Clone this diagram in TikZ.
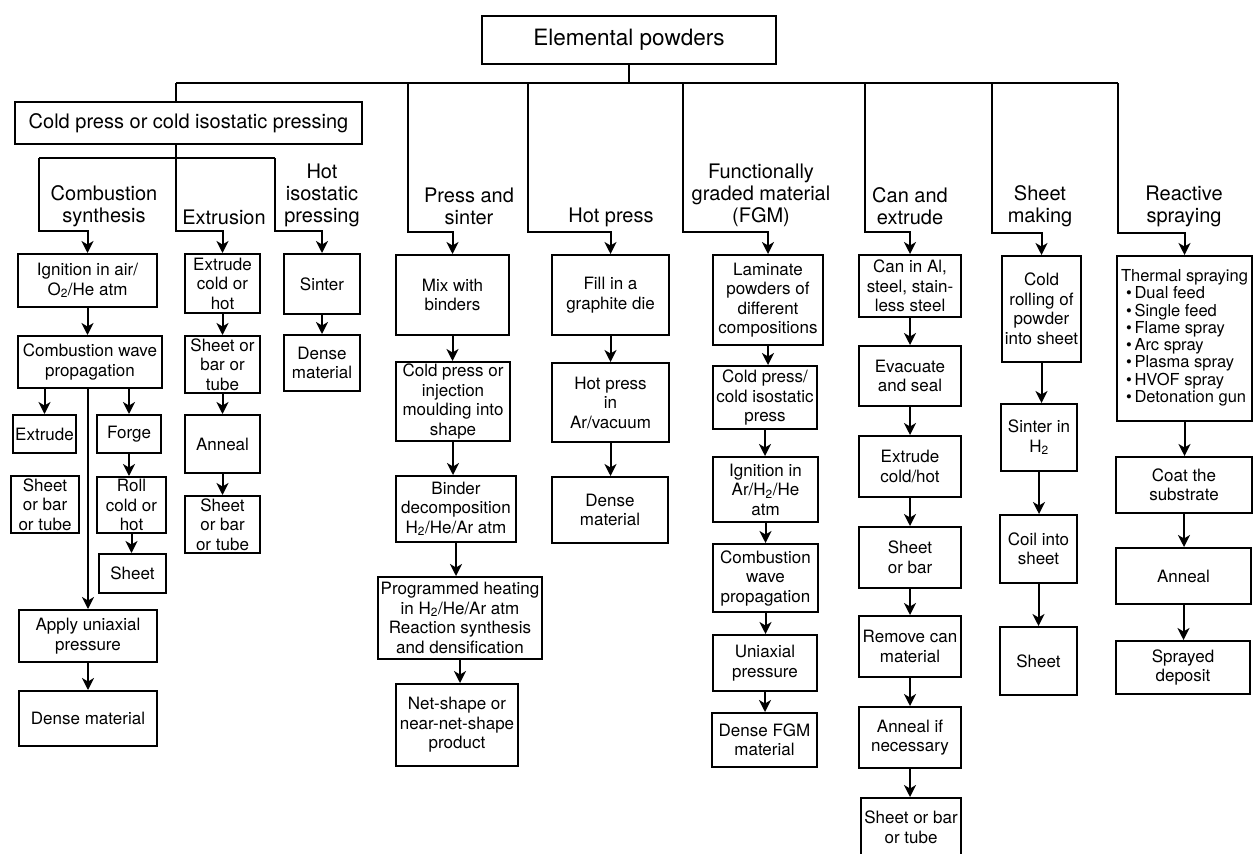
\documentclass[tikz,border=0pt]{standalone}
\usepackage{fontspec}
\setmainfont{TeX Gyre Heros}
\usetikzlibrary{arrows.meta}

\begin{document}
\begin{tikzpicture}[x=1pt,y=-1pt,
  box/.style={draw,line width=2pt,align=center,inner sep=0pt,font=\fontsize{17}{19.5}\selectfont},
  lab/.style={align=center,font=\fontsize{20}{22}\selectfont},
  arr/.style={line width=2pt,-{Stealth[length=12pt,width=12pt,inset=3.5pt]}},
  bus/.style={line width=1.3pt}]
\useasboundingbox (0,0) rectangle (1253,854);
% box from (x1,y1) to (x2,y2)
\def\pbox#1#2#3#4#5#6{\node[box,minimum width={#4-#2},minimum height={#5-#3}] (#1) at ({(#2+#4)/2},{(#3+#5)/2}) {#6};}

% top of the tree
\pbox{top}{482}{16}{776}{64}{\fontsize{22.5}{26}\selectfont Elemental powders}
\pbox{cold}{15}{102}{362}{144}{\fontsize{20}{24}\selectfont Cold press or cold isostatic pressing}
\coordinate (busL) at (176,83);
\coordinate (busR) at (1118,83);
\foreach \n/\dx in {jPS/408,jHP/528,jFG/683,jCE/865,jSM/992,jRS/1118}
  \coordinate (\n) at (\dx,83);
\coordinate (subL) at (39,158);
\coordinate (subR) at (275,158);

% combustion synthesis
\pbox{ign}{18}{254}{157}{307}{Ignition in air/\\O\textsubscript{2}/He atm}
\pbox{cwp}{18}{336}{162}{388}{Combustion wave\\propagation}
\pbox{extr}{13}{415}{76}{453}{Extrude}
\pbox{sbtA}{11}{476}{79}{533}{Sheet\\or bar\\or tube}
\pbox{forge}{97}{415}{161}{453}{Forge}
\pbox{roll}{97}{477}{166}{533}{Roll\\cold or\\hot}
\pbox{sheetA}{99}{554}{166}{593}{Sheet}
\pbox{apply}{19}{610}{157}{662}{Apply uniaxial\\pressure}
\pbox{denseA}{19}{691}{157}{746}{Dense material}

% extrusion, HIP
\pbox{exc}{185}{254}{260}{313}{Extrude\\cold or\\hot}
\pbox{esb}{185}{336}{260}{393}{Sheet or\\bar or\\tube}
\pbox{ean}{185}{415}{260}{473}{Anneal}
\pbox{esbb}{185}{496}{260}{553}{Sheet\\or bar\\or tube}
\pbox{hsin}{284}{254}{360}{314}{Sinter}
\pbox{hden}{284}{335}{360}{391}{Dense\\material}

% press and sinter, hot press
\pbox{mix}{396}{255}{509}{335}{Mix with\\binders}
\pbox{cpi}{396}{362}{510}{441}{Cold press or\\injection\\moulding into\\shape}
\pbox{bind}{396}{476}{516}{542}{Binder\\decomposition\\H\textsubscript{2}/He/Ar atm}
\pbox{prog}{378}{577}{542}{659}{Programmed heating\\in H\textsubscript{2}/He/Ar atm\\Reaction synthesis\\and densification}
\pbox{net}{396}{684}{518}{766}{Net-shape or\\near-net-shape\\product}
\pbox{fill}{552}{255}{669}{335}{Fill in a\\graphite die}
\pbox{hpa}{552}{363}{669}{442}{Hot press\\in\\Ar/vacuum}
\pbox{hdenb}{552}{477}{668}{543}{Dense\\material}

% FGM
\pbox{lam}{713}{255}{823}{345}{Laminate\\powders of\\different\\compositions}
\pbox{fcp}{713}{366}{817}{429}{Cold press/\\cold isostatic\\press}
\pbox{fig}{713}{457}{818}{522}{Ignition in\\Ar/H\textsubscript{2}/He\\atm}
\pbox{fcw}{713}{544}{818}{612}{Combustion\\wave\\propagation}
\pbox{fup}{713}{635}{817}{691}{Uniaxial\\pressure}
\pbox{fden}{712}{713}{817}{767}{Dense FGM\\material}

% can and extrude
\pbox{can}{859}{255}{961}{317}{Can in Al,\\steel, stain-\\less steel}
\pbox{evac}{859}{346}{961}{406}{Evacuate\\and seal}
\pbox{cext}{859}{436}{961}{497}{Extrude\\cold/hot}
\pbox{csb}{859}{527}{961}{588}{Sheet\\or bar}
\pbox{crem}{859}{616}{961}{677}{Remove can\\material}
\pbox{cann}{859}{707}{961}{768}{Anneal if\\necessary}
\pbox{csbt}{861}{798}{961}{857}{Sheet or bar\\or tube}

% sheet making, reactive spraying
\pbox{crl}{1002}{256}{1081}{362}{Cold\\rolling of\\powder\\into sheet}
\pbox{shs}{1001}{404}{1077}{471}{Sinter in\\H\textsubscript{2}}
\pbox{coil}{1000}{515}{1077}{583}{Coil into\\sheet}
\pbox{shc}{1000}{627}{1077}{695}{Sheet}
\pbox{therm}{1117}{256}{1252}{421}{\fontsize{16.5}{17}\selectfont\begin{tabular}{@{}l@{}}Thermal spraying\\
  \hspace{5pt}\textbullet\,Dual feed\\ \hspace{5pt}\textbullet\,Single feed\\ \hspace{5pt}\textbullet\,Flame spray\\
  \hspace{5pt}\textbullet\,Arc spray\\ \hspace{5pt}\textbullet\,Plasma spray\\ \hspace{5pt}\textbullet\,HVOF spray\\
  \hspace{5pt}\textbullet\,Detonation gun\end{tabular}}
\pbox{coat}{1116}{457}{1252}{513}{Coat the\\substrate}
\pbox{rann}{1116}{548}{1251}{604}{Anneal}
\pbox{spr}{1116}{641}{1250}{694}{Sprayed\\deposit}

% branch labels
\node[lab] (lCS) at (104,206) {Combustion\\synthesis};
\node[lab] (lEX) at (224,217) {Extrusion};
\node[lab] (lHIP) at (322,195) {Hot\\isostatic\\pressing};
\node[lab] (lPS) at (469,206) {Press and\\sinter};
\node[lab] (lHP) at (611,217) {Hot press};
\node[lab] (lFGM) at (761,195) {Functionally\\graded material\\(FGM)};
\node[lab] (lCE) at (910,206) {Can and\\extrude};
\node[lab] (lSM) at (1040,206) {Sheet\\making};
\node[lab] (lRS) at (1184,206) {Reactive\\spraying};

% connectors
\draw[bus] (busL) -- (busR);
\draw[bus] (top.south) -- (top.south |- busL);
\draw[bus] (busL) -- (busL |- cold.north);
\draw[arr,-] (busL |- cold.south) -- (busL |- subL);
\draw[arr,-] (subL) -- (subR);
\draw[arr] (subL) |- ([yshift=22pt]ign.north) -- (ign.north);
\draw[arr] (busL |- subL) |- ([yshift=22pt]exc.north) -- (exc.north);
\draw[arr] (subR) |- ([yshift=22pt]hsin.north) -- (hsin.north);
\foreach \j/\t in {jPS/mix,jHP/fill,jFG/lam,jCE/can,jSM/crl,jRS/therm}
  \draw[arr] (\j) |- ([yshift=22pt]\t.north) -- (\t.north);

\draw[arr] (extr.north |- cwp.south) -- (extr.north);
\draw[arr] (forge.north |- cwp.south) -- (forge.north);
\draw[arr] (apply.north |- cwp.south) -- (apply.north);
\foreach \a/\b in {ign/cwp,forge/roll,roll/sheetA,apply/denseA,exc/esb,esb/ean,ean/esbb,hsin/hden,
  mix/cpi,cpi/bind,bind/prog,prog/net,fill/hpa,hpa/hdenb,lam/fcp,fcp/fig,fig/fcw,fcw/fup,fup/fden,
  can/evac,evac/cext,cext/csb,csb/crem,crem/cann,cann/csbt,crl/shs,shs/coil,coil/shc,therm/coat,coat/rann,rann/spr}
  \draw[arr] (\a) -- (\a |- \b.north);
\end{tikzpicture}
\end{document}
